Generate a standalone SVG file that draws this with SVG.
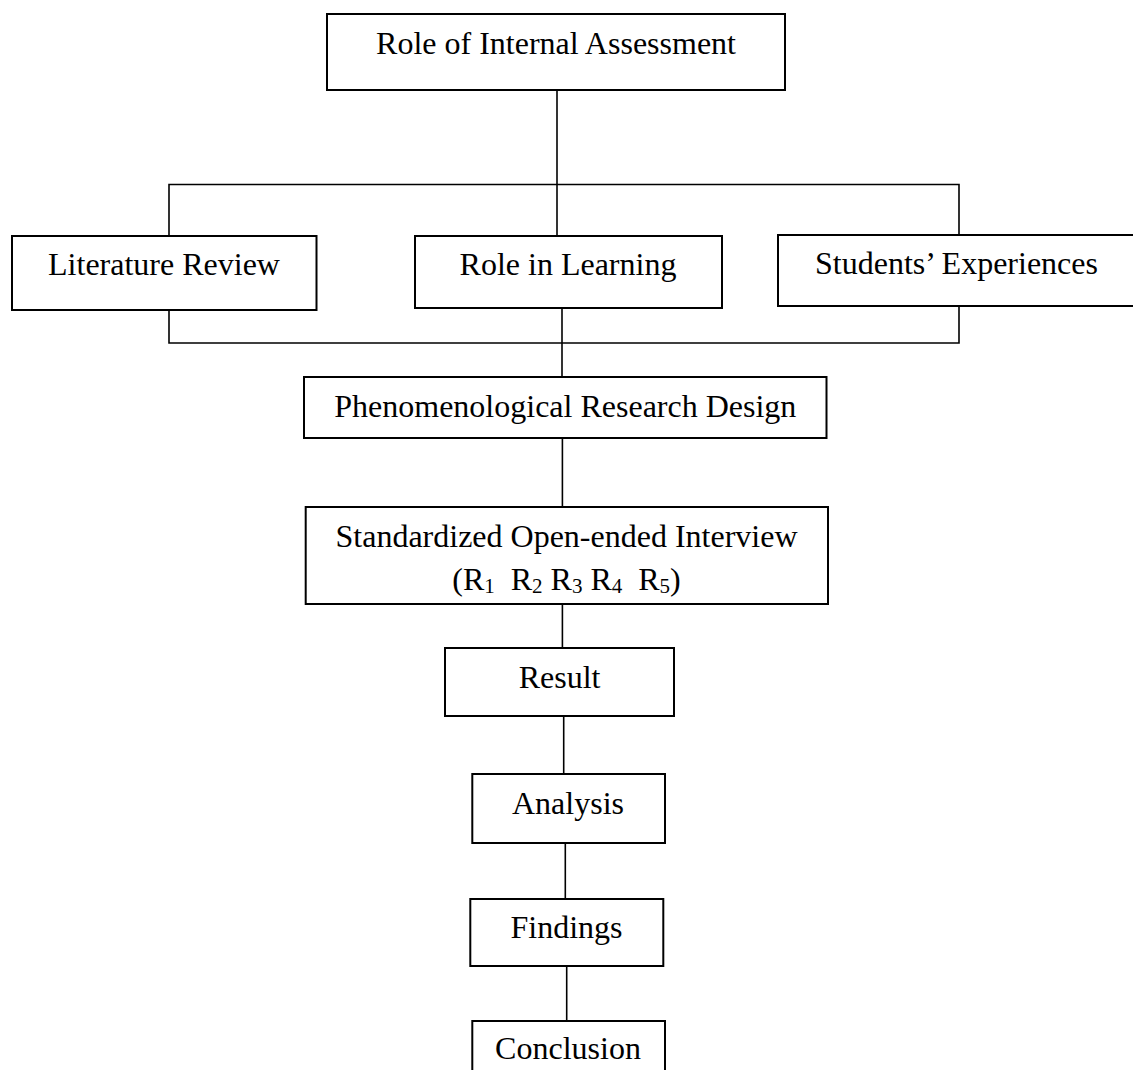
<svg xmlns="http://www.w3.org/2000/svg" width="1133" height="1070" viewBox="0 0 1133 1070">
<style>
.box{fill:#fff;stroke:#000;stroke-width:2}
.ln{fill:none;stroke:#000;stroke-width:1.6}
text{font-family:"Liberation Serif","Times New Roman",serif;font-size:32px;fill:#000;text-anchor:middle}
.sub{font-size:21px}
</style>
<rect width="1133" height="1070" fill="#fff"/>
<g id="connectors">
<path class="ln" d="M557 90V236"/>
<path class="ln" d="M169 236V184.5H959V235"/>
<path class="ln" d="M169 310V343H959V306"/>
<path class="ln" d="M562 308V377"/>
<path class="ln" d="M562.4 438V507"/>
<path class="ln" d="M562.4 604V648"/>
<path class="ln" d="M563.7 716V774"/>
<path class="ln" d="M565.3 843V899"/>
<path class="ln" d="M566.7 966V1021"/>
</g>
<g id="n-role-ia"><rect class="box" x="327" y="14" width="458" height="76"/><text x="556" y="54">Role of Internal Assessment</text></g>
<g id="n-lit"><rect class="box" x="12" y="236" width="304.5" height="74"/><text x="164" y="275">Literature Review</text></g>
<g id="n-role-learn"><rect class="box" x="415" y="236" width="307" height="72"/><text x="568" y="275">Role in Learning</text></g>
<g id="n-students"><rect class="box" x="778" y="235" width="370" height="71"/><text x="956.5" y="274">Students’ Experiences</text></g>
<g id="n-phenom"><rect class="box" x="304" y="377" width="522.5" height="61"/><text x="565.3" y="417">Phenomenological Research Design</text></g>
<g id="n-interview"><rect class="box" x="305.7" y="507" width="522.3" height="97"/><text x="566.5" y="547">Standardized Open-ended Interview</text><text x="566.5" y="590" xml:space="preserve">(R<tspan class="sub" dy="3">1</tspan><tspan dy="-3">  R</tspan><tspan class="sub" dy="3">2</tspan><tspan dy="-3"> R</tspan><tspan class="sub" dy="3">3</tspan><tspan dy="-3"> R</tspan><tspan class="sub" dy="3">4</tspan><tspan dy="-3">  R</tspan><tspan class="sub" dy="3">5</tspan><tspan dy="-3">)</tspan></text></g>
<g id="n-result"><rect class="box" x="445" y="648" width="229" height="68"/><text x="559.6" y="688">Result</text></g>
<g id="n-analysis"><rect class="box" x="472.3" y="774" width="192.7" height="69"/><text x="568" y="814">Analysis</text></g>
<g id="n-findings"><rect class="box" x="470.3" y="899" width="193" height="67"/><text x="566.5" y="938">Findings</text></g>
<g id="n-conclusion"><rect class="box" x="472.3" y="1021" width="192.7" height="70"/><text x="568" y="1059">Conclusion</text></g>
</svg>
